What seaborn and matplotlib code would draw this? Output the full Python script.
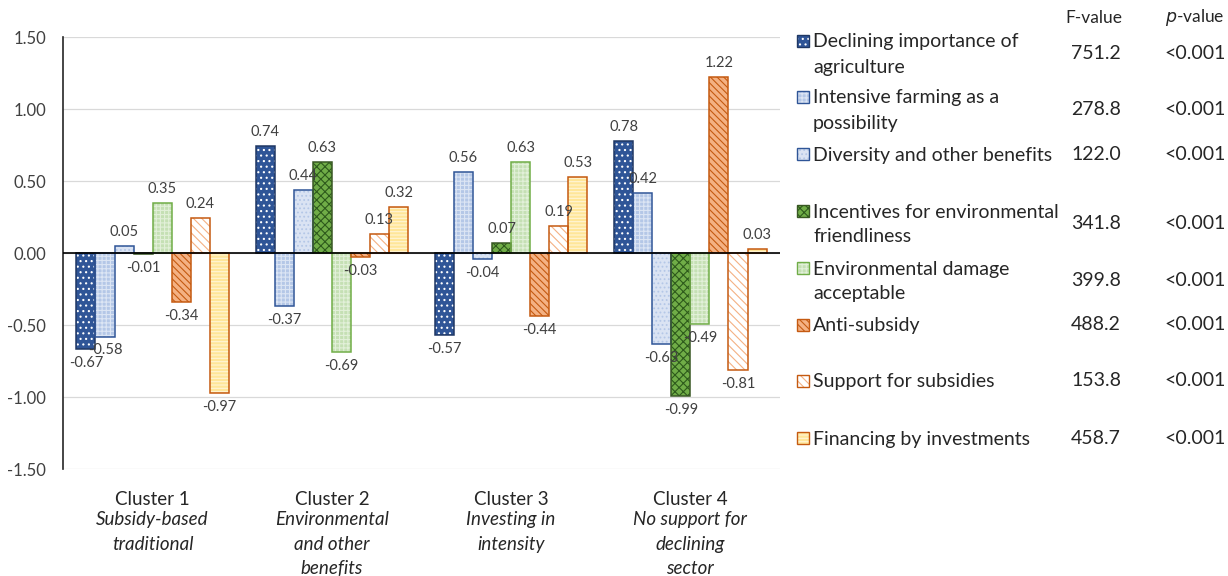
import matplotlib
matplotlib.use("Agg")
import matplotlib.pyplot as plt
from matplotlib.patches import Rectangle
import numpy as np
import pandas as pd
import seaborn as sns

# ---------------- data ----------------
clusters = ["Cluster 1", "Cluster 2", "Cluster 3", "Cluster 4"]
cluster_desc = ["Subsidy-based\ntraditional", "Environmental\nand other\nbenefits",
                "Investing in\nintensity", "No support for\ndeclining\nsector"]
factors = ["Declining importance of\nagriculture",
           "Intensive farming as a\npossibility",
           "Diversity and other benefits",
           "Incentives for environmental\nfriendliness",
           "Environmental damage\nacceptable",
           "Anti-subsidy",
           "Support for subsidies",
           "Financing by investments"]
declining = [-0.67, 0.74, -0.57, 0.78]
intensive = [-0.58, -0.37, 0.56, 0.42]
diversity = [0.05, 0.44, -0.04, -0.63]
incentives = [-0.01, 0.63, 0.07, -0.99]
env_damage = [0.35, -0.69, 0.63, -0.49]
anti_subsidy = [-0.34, -0.03, -0.44, 1.22]
support_subsidies = [0.24, 0.13, 0.19, -0.81]
financing = [-0.97, 0.32, 0.53, 0.03]
f_values = ["751.2", "278.8", "122.0", "341.8", "399.8", "488.2", "153.8", "458.7"]
p_values = ["<0.001"] * 8
yticks = [-1.5, -1.0, -0.5, 0.0, 0.5, 1.0, 1.5]

series = [declining, intensive, diversity, incentives, env_damage,
          anti_subsidy, support_subsidies, financing]
rows = []
for f, vals in zip(factors, series):
    for c, v in zip(clusters, vals):
        rows.append({"cluster": c, "factor": f, "value": v})
df = pd.DataFrame(rows)

# ---------------- styles ----------------
faces = ["#2F5597", "#B4C7E7", "#DAE3F3", "#70AD47", "#C5E0B4", "#F4B183", "#FFFFFF", "#FFE699"]
edges = ["#203864", "#2F5597", "#2F5597", "#385723", "#70AD47", "#C55A11", "#C55A11", "#C55A11"]
hatches = ["...", "++++", "....", "xxxx", "++++", "\\\\\\\\\\", "\\\\\\\\", "-----"]
hatch_cols = ["#FFFFFF", "#DCE5F4", "#B4C7E7", "#2E5A1C", "#E2F0D9", "#C55A11", "#F4B183", "#FFF5D6"]

font = "Lato"
sns.set_theme(style="white")
plt.rcParams["font.family"] = [font, "DejaVu Sans"]
plt.rcParams["hatch.linewidth"] = 0.8

fig = plt.figure(figsize=(12.28, 5.76), dpi=100)
W, H = 1228, 576
ax = fig.add_axes([63 / W, (H - 469) / H, (780 - 63) / W, (469 - 37) / H])

sns.barplot(data=df, x="cluster", y="value", hue="factor", order=clusters,
            hue_order=factors, palette=faces, saturation=1, width=0.85,
            legend=False, ax=ax, linewidth=0)

for i, cont in enumerate(ax.containers):
    for p in cont.patches:
        x, y = p.get_xy()
        ax.add_patch(Rectangle((x, y), p.get_width(), p.get_height(), fill=False,
                               hatch=hatches[i], edgecolor=hatch_cols[i], lw=0, zorder=3))
        ax.add_patch(Rectangle((x, y), p.get_width(), p.get_height(), fill=False,
                               edgecolor=edges[i], lw=1.1, zorder=4))
    ax.bar_label(cont, fmt="%.2f", padding=5, fontsize=10.5, color="#404040", zorder=6)

ax.set_ylim(-1.5, 1.5)
ax.set_xlim(-0.5, 3.5)
ax.set_yticks(yticks)
ax.set_yticklabels([f"{t:.2f}" for t in yticks], fontsize=12, color="#404040")
ax.tick_params(axis="y", length=0, pad=12)
ax.yaxis.grid(True, color="#D9D9D9", lw=0.9)
ax.set_axisbelow(True)
ax.axhline(0, color="black", lw=1.2, zorder=5)
for s in ["top", "right", "bottom"]:
    ax.spines[s].set_visible(False)
ax.spines["left"].set_color("#262626")
ax.spines["left"].set_linewidth(1.2)
ax.set_xlabel("")
ax.set_ylabel("")
ax.set_xticks(range(len(clusters)))
ax.set_xticklabels(clusters, fontsize=13.5, color="#262626")
ax.tick_params(axis="x", length=0, pad=16)
for i, d in enumerate(cluster_desc):
    ax.annotate(d, xy=(i, 0), xycoords=("data", "axes fraction"),
                xytext=(0, -30), textcoords="offset points", ha="center", va="top",
                fontsize=13.5, style="italic", color="#262626", linespacing=1.56)

# ---------------- legend with F / p values ----------------
row_y = [41, 97, 154, 211, 268, 325, 381, 438]
line_gap = 25
fig.text(1094 / W, 1 - 18 / H, "F-value", ha="center", va="center", fontsize=12.5, color="#262626")
fig.text(1195 / W, 1 - 18 / H, "$\\it{p}$-value", ha="center", va="center", fontsize=12.5,
         color="#262626")
for i, lab in enumerate(factors):
    yc = row_y[i]
    ps = 12
    for kw in [dict(facecolor=faces[i], edgecolor="none"),
               dict(fill=False, hatch=hatches[i], edgecolor=hatch_cols[i], lw=0),
               dict(fill=False, edgecolor=edges[i], lw=1.0)]:
        fig.patches.append(Rectangle((797 / W, 1 - (yc + ps / 2) / H), ps / W, ps / H,
                                     transform=fig.transFigure, figure=fig, **kw))
    lines = lab.split("\n")
    for k, ln in enumerate(lines):
        fig.text(813 / W, 1 - (yc + k * line_gap + 1) / H, ln, ha="left", va="center",
                 fontsize=14, color="#262626")
    ny = yc + (line_gap / 2 if len(lines) > 1 else 0)
    fig.text(1096 / W, 1 - ny / H, f_values[i], ha="center", va="center", fontsize=14,
             color="#262626")
    fig.text(1195 / W, 1 - ny / H, p_values[i], ha="center", va="center", fontsize=14,
             color="#262626")

fig.savefig("out.png", dpi=100)
